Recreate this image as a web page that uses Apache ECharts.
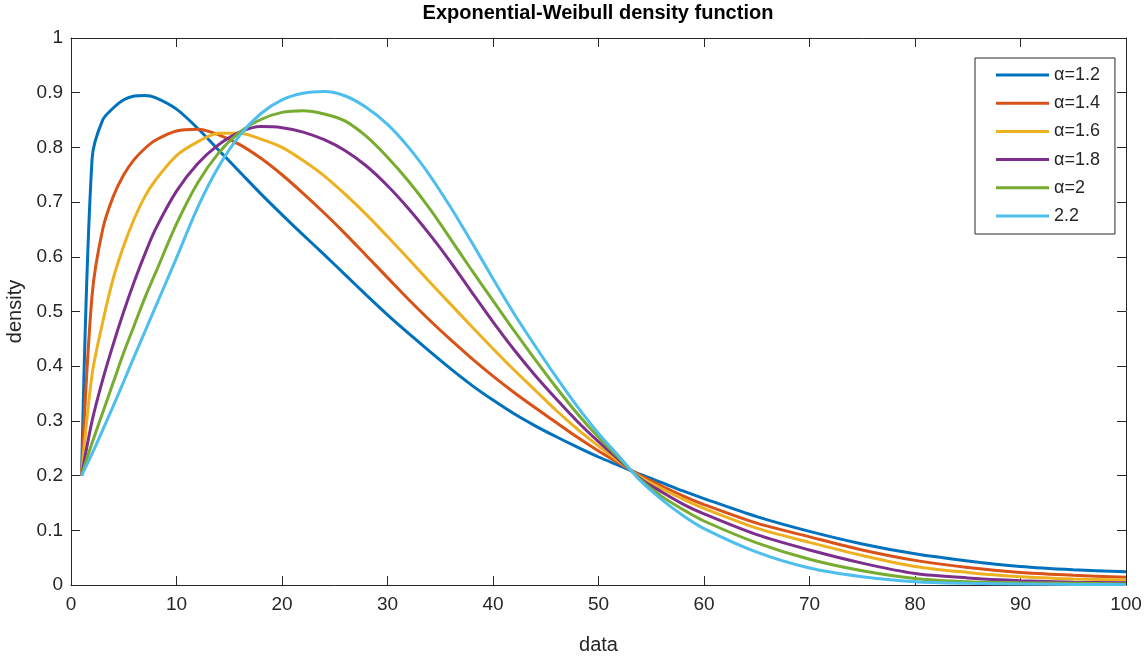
<!DOCTYPE html>
<html>
<head>
<meta charset="utf-8">
<script src="https://cdn.jsdelivr.net/npm/echarts@6/dist/echarts.min.js"></script>
<style>html,body{margin:0;padding:0;background:#fff}#c{width:1144px;height:659px}</style>
</head>
<body>
<div id="c"></div>
<script>
const FONT = "'Liberation Sans',Arial,sans-serif";
const xs = [1,2,3,4,5,6,7,8,10,12,14,16,18,20,22,24,26,28,30,32,34,36,38,40,42,44,46,48,50,52,54,56,58,60,65,70,75,80,85,90,95,100];
const names = ['α=1.2','α=1.4','α=1.6','α=1.8','α=2','2.2'];
const colors = ['#0072BD','#D95319','#EDB120','#7E2F8E','#77AC30','#4DBEEE'];
const a12 = [0.2,0.78,0.85,0.872,0.887,0.894,0.895,0.891,0.87,0.835,0.795,0.755,0.715,0.677,0.64,0.604,0.567,0.53,0.494,0.46,0.427,0.395,0.365,0.338,0.313,0.291,0.271,0.252,0.234,0.218,0.202,0.187,0.172,0.158,0.125,0.098,0.075,0.057,0.044,0.034,0.028,0.024];
const a14 = [0.2,0.53,0.65,0.71,0.75,0.778,0.798,0.813,0.83,0.833,0.823,0.805,0.78,0.75,0.716,0.68,0.642,0.602,0.562,0.522,0.484,0.448,0.414,0.382,0.352,0.324,0.297,0.27,0.245,0.222,0.2,0.181,0.163,0.147,0.113,0.088,0.064,0.045,0.032,0.023,0.018,0.014];
const a16 = [0.2,0.385,0.48,0.56,0.62,0.67,0.71,0.74,0.785,0.81,0.826,0.826,0.815,0.8,0.776,0.748,0.714,0.677,0.637,0.596,0.554,0.513,0.472,0.432,0.393,0.356,0.319,0.285,0.254,0.225,0.197,0.176,0.157,0.14,0.104,0.078,0.054,0.034,0.023,0.015,0.011,0.009];
const a18 = [0.2,0.3,0.375,0.44,0.5,0.555,0.605,0.65,0.72,0.77,0.805,0.828,0.838,0.836,0.828,0.814,0.794,0.766,0.73,0.688,0.641,0.59,0.535,0.481,0.43,0.383,0.34,0.299,0.262,0.228,0.194,0.17,0.148,0.13,0.092,0.064,0.04,0.021,0.013,0.008,0.005,0.004];
const a20 = [0.2,0.26,0.315,0.37,0.425,0.475,0.525,0.57,0.66,0.735,0.79,0.828,0.851,0.864,0.867,0.861,0.848,0.82,0.782,0.738,0.688,0.632,0.575,0.52,0.465,0.412,0.361,0.313,0.27,0.231,0.192,0.162,0.138,0.117,0.077,0.047,0.026,0.012,0.006,0.004,0.003,0.002];
const a22 = [0.2,0.24,0.283,0.327,0.372,0.418,0.463,0.508,0.598,0.69,0.765,0.822,0.862,0.887,0.899,0.902,0.894,0.873,0.842,0.8,0.749,0.69,0.626,0.56,0.496,0.437,0.38,0.326,0.277,0.234,0.19,0.156,0.127,0.103,0.06,0.031,0.015,0.006,0.003,0.002,0.001,0.001];
const yTicks = [0,0.1,0.2,0.3,0.4,0.5,0.6,0.7,0.8,0.9,1];
const seriesVals = [a12,a14,a16,a18,a20,a22];

const txt = '#262626';
const chart = echarts.init(document.getElementById('c'), null, {renderer:'canvas'});
const axisCommon = {
  axisLine:{show:true,onZero:false,lineStyle:{color:txt,width:1}},
  axisTick:{show:true,inside:true,length:9,lineStyle:{color:txt,width:1}},
  splitLine:{show:false}
};
chart.setOption({
  animation:false,
  backgroundColor:'#fff',
  graphic:[{type:'text',x:598,y:3,style:{text:'Exponential-Weibull density function',font:'bold 20px '+FONT,fill:'#000',textAlign:'center'}}],
  grid:{left:71,top:38,right:18,bottom:74,containLabel:false,outerBoundsMode:'none'},
  legend:{
    orient:'vertical',left:975,top:58,
    padding:[8,15,9,21],itemWidth:53,itemHeight:14,itemGap:10.2,
    borderColor:txt,borderWidth:1,backgroundColor:'#fff',
    textStyle:{fontFamily:FONT,fontSize:18,color:txt},
    data:names.map(n=>({name:n,icon:'path://M0,5.5L53,5.5L53,8.5L0,8.5Z'}))
  },
  xAxis:[
    Object.assign({type:'value',min:0,max:100,interval:10,position:'bottom',
      name:'data',nameLocation:'middle',nameGap:50,
      nameTextStyle:{fontFamily:FONT,fontSize:20,color:txt},
      axisLabel:{fontFamily:FONT,fontSize:19,color:txt,margin:10}},axisCommon),
    Object.assign({type:'value',min:0,max:100,interval:10,position:'top',axisLabel:{show:false}},axisCommon)
  ],
  yAxis:[
    Object.assign({type:'value',min:0,max:1,interval:0.1,position:'left',
      name:'density',nameLocation:'middle',nameGap:34,nameRotate:90,
      nameTextStyle:{fontFamily:FONT,fontSize:20,color:txt},
      axisLabel:{fontFamily:FONT,fontSize:19,color:txt,margin:8,formatter:v=>String(+v.toFixed(1))}},axisCommon),
    Object.assign({type:'value',min:0,max:1,interval:0.1,position:'right',axisLabel:{show:false}},axisCommon)
  ],
  series:seriesVals.map((vals,i)=>({
    name:names[i],type:'line',xAxisIndex:0,yAxisIndex:0,
    data:xs.map((x,j)=>[x,vals[j]]),
    showSymbol:false,smooth:0.3,
    lineStyle:{color:colors[i],width:3},itemStyle:{color:colors[i]},
    z:2+i
  }))
});
</script>
</body>
</html>
